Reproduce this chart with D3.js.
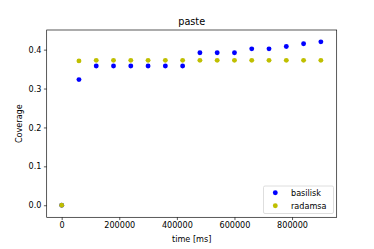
<!DOCTYPE html>
<html>
<head>
<meta charset="utf-8">
<script src="https://cdn.jsdelivr.net/npm/d3@7"></script>
<style>
  body { margin: 0; background: #fff; }
  svg text { font-family: "DejaVu Sans", sans-serif; fill: #000; }
</style>
</head>
<body>
<div id="chart-wrapper"></div>
<script>
// time points in ms
const times = [0, 60000, 120000, 180000, 240000, 300000, 360000, 420000,
  480000, 540000, 600000, 660000, 720000, 780000, 840000, 900000];
const basilisk = [0, 0.323, 0.358, 0.358, 0.358, 0.358, 0.358, 0.358,
  0.392, 0.392, 0.392, 0.402, 0.402, 0.408, 0.415, 0.420];
const radamsa = [0, 0.371, 0.3725, 0.3725, 0.3725, 0.3725, 0.3725, 0.3725,
  0.3725, 0.3725, 0.3725, 0.3725, 0.3725, 0.3725, 0.3725, 0.3725];
const xTicks = [0, 200000, 400000, 600000, 800000];
const yTicks = [0.0, 0.1, 0.2, 0.3, 0.4];
const seriesNames = ["basilisk", "radamsa"];
const seriesColors = ["#0000ff", "#bfbf00"];

let dimensions = {
  width: 374,
  height: 249,
  margin: { top: 30, right: 37.3, bottom: 31.7, left: 46.7 },
};
dimensions.boundedWidth = dimensions.width - dimensions.margin.left - dimensions.margin.right;
dimensions.boundedHeight = dimensions.height - dimensions.margin.top - dimensions.margin.bottom;

const wrapper = d3.select("#chart-wrapper")
  .append("svg")
  .attr("width", dimensions.width)
  .attr("height", dimensions.height);

const bounds = wrapper.append("g")
  .attr("transform", `translate(${dimensions.margin.left},${dimensions.margin.top})`);

const xScale = d3.scaleLinear()
  .domain([-52000, 955000])
  .range([0, dimensions.boundedWidth]);

const yScale = d3.scaleLinear()
  .domain([-0.031, 0.4505])
  .range([dimensions.boundedHeight, 0]);

// points: basilisk first, radamsa on top
const series = [basilisk, radamsa];
series.forEach((vals, i) => {
  bounds.append("g")
    .selectAll("circle")
    .data(times.map((t, j) => ({ t: t, v: vals[j] })))
    .join("circle")
    .attr("cx", d => xScale(d.t))
    .attr("cy", d => yScale(d.v))
    .attr("r", 2.45)
    .attr("fill", seriesColors[i]);
});

// axes
const xAxis = bounds.append("g")
  .attr("transform", `translate(0,${dimensions.boundedHeight})`)
  .call(d3.axisBottom(xScale).tickValues(xTicks).tickFormat(d3.format("d")).tickSizeOuter(0).tickSize(2.8).tickPadding(2.5));
const yAxis = bounds.append("g")
  .call(d3.axisLeft(yScale).tickValues(yTicks).tickFormat(d3.format(".1f")).tickSizeOuter(0).tickSize(2.8).tickPadding(2.5));

[xAxis, yAxis].forEach(ax => {
  ax.select(".domain").remove();
  ax.selectAll("text").style("font-size", "8.1px").attr("font-family", null);
  ax.selectAll("line").attr("stroke-width", 0.65);
});

// frame
bounds.append("rect")
  .attr("width", dimensions.boundedWidth)
  .attr("height", dimensions.boundedHeight)
  .attr("fill", "none")
  .attr("stroke", "#000")
  .attr("stroke-width", 0.65);

// title and labels
wrapper.append("text")
  .attr("x", dimensions.margin.left + dimensions.boundedWidth / 2)
  .attr("y", 25)
  .attr("text-anchor", "middle")
  .style("font-size", "9.7px")
  .text("paste");

wrapper.append("text")
  .attr("x", dimensions.margin.left + dimensions.boundedWidth / 2)
  .attr("y", 242)
  .attr("text-anchor", "middle")
  .style("font-size", "8.1px")
  .text("time [ms]");

wrapper.append("text")
  .attr("transform", `translate(22,${dimensions.margin.top + dimensions.boundedHeight / 2}) rotate(-90)`)
  .attr("text-anchor", "middle")
  .style("font-size", "8.1px")
  .text("Coverage");

// legend
const legend = wrapper.append("g")
  .attr("transform", "translate(263.5,186)");
legend.append("rect")
  .attr("width", 70)
  .attr("height", 27.5)
  .attr("rx", 1.5)
  .attr("fill", "#fff")
  .attr("fill-opacity", 0.8)
  .attr("stroke", "#cccccc")
  .attr("stroke-width", 0.65);
seriesNames.forEach((name, i) => {
  const row = legend.append("g").attr("transform", `translate(0,${6.7 + i * 13})`);
  row.append("circle").attr("cx", 11.8).attr("cy", 0).attr("r", 2.45).attr("fill", seriesColors[i]);
  row.append("text").attr("x", 27.5).attr("y", 2.9).style("font-size", "8.1px").text(name);
});
</script>
</body>
</html>
